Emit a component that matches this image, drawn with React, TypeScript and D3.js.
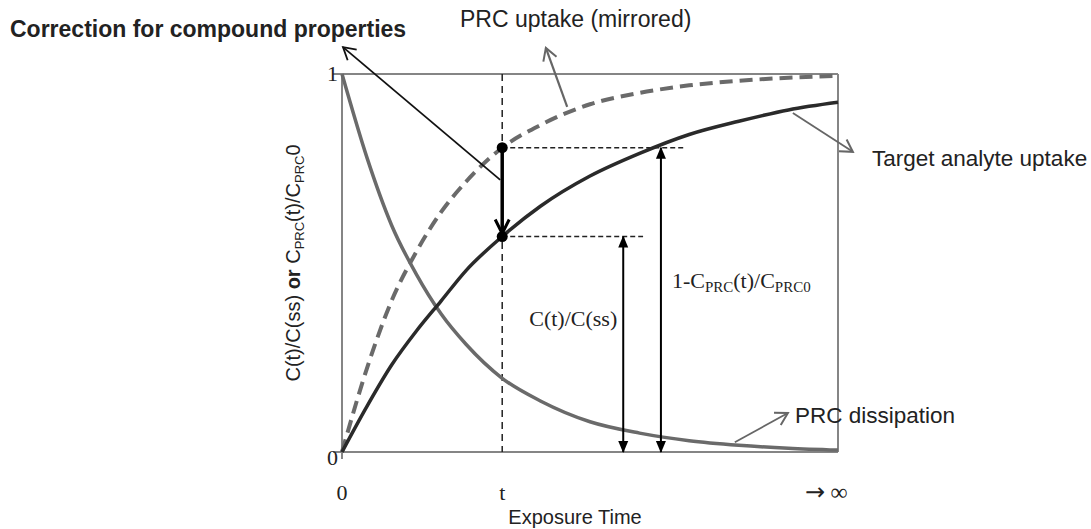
import * as d3 from 'd3';

// curves (x = share of exposure time up to "infinity")
const timeSteps = [0, 0.05, 0.1, 0.15, 0.2, 0.25, 0.323, 0.4, 0.5, 0.6, 0.7, 0.8, 0.9, 1.0];
const targetUptake = [0, 0.12, 0.23, 0.32, 0.4, 0.48, 0.57, 0.65, 0.73, 0.79, 0.84, 0.875, 0.905, 0.925];
const prcUptake = [0, 0.22, 0.4, 0.53, 0.635, 0.715, 0.805, 0.865, 0.92, 0.95, 0.97, 0.982, 0.99, 0.995];
const prcDissipation = [1, 0.78, 0.6, 0.47, 0.365, 0.285, 0.195, 0.135, 0.08, 0.05, 0.03, 0.018, 0.01, 0.005];

const xTickValues = [0, 0.323, 1];
const xTickLabels = ['0', 't', '∞'];
const yTickValues = [0, 1];
const yTickLabels = ['0', '1'];

// marked exposure time and the two levels read at it
const tMark = 0.323;
const prcLevelAtT = 0.805;
const analyteLevelAtT = 0.57;
const ratioArrowX = 0.567;
const prcArrowX = 0.643;
const prcGuideEnd = 0.688;
const analyteGuideEnd = 0.607;

// annotation pointers [fromX, fromY, toX, toY] in data units
const correctionPointer = [0.319, 0.72, 0.002, 1.071];
const prcUptakePointer = [0.454, 0.913, 0.411, 1.069];
const targetPointer = [0.909, 0.897, 1.03, 0.794];
const dissipationPointer = [0.792, 0.026, 0.899, 0.103];

const sans = '"Liberation Sans", Arial, sans-serif';
const serif = '"Liberation Serif", "Times New Roman", serif';

export default function App() {
  const width = 1091;
  const height = 529;

  const x = d3.scaleLinear().domain([0, 1]).range([342, 838]);
  const y = d3.scaleLinear().domain([0, 1]).range([452, 74]);

  const line = (vals: number[]) =>
    d3.line<number>()
      .x((_, i) => x(timeSteps[i]))
      .y(d => y(d))
      .curve(d3.curveMonotoneX)(vals) || '';

  const pointer = (p: number[], color: string, marker: string, w = 1.6) => (
    <line x1={x(p[0])} y1={y(p[1])} x2={x(p[2])} y2={y(p[3])}
      stroke={color} strokeWidth={w} markerEnd={`url(#${marker})`} />
  );

  return (
    <svg width={width} height={height} style={{ position: 'absolute', left: 0, top: 0, background: '#fff' }}>
      <defs>
        <marker id="openBlack" viewBox="0 0 16 16" refX="14" refY="8" markerWidth="16" markerHeight="16"
          orient="auto" markerUnits="userSpaceOnUse">
          <path d="M2,1 L14,8 L2,15" fill="none" stroke="#111" strokeWidth="1.8" />
        </marker>
        <marker id="openGray" viewBox="0 0 16 16" refX="14" refY="8" markerWidth="16" markerHeight="16"
          orient="auto" markerUnits="userSpaceOnUse">
          <path d="M2,1 L14,8 L2,15" fill="none" stroke="#666" strokeWidth="2" />
        </marker>
        <marker id="thickHead" viewBox="0 0 18 18" refX="16" refY="9" markerWidth="18" markerHeight="18"
          orient="auto" markerUnits="userSpaceOnUse">
          <path d="M2,2 L16,9 L2,16" fill="none" stroke="#000" strokeWidth="3" />
        </marker>
        <marker id="solidHead" viewBox="0 0 12 12" refX="11" refY="6" markerWidth="12" markerHeight="12"
          orient="auto-start-reverse" markerUnits="userSpaceOnUse">
          <path d="M0,1 L12,6 L0,11 Z" fill="#000" />
        </marker>
      </defs>

      {/* frame */}
      <g stroke="#858585" strokeWidth={2}>
        <line x1={x(0) - 9} x2={x(1)} y1={y(1)} y2={y(1)} />
        <line x1={x(0) - 9} x2={x(1)} y1={y(0)} y2={y(0)} />
        <line x1={x(0)} x2={x(0)} y1={y(1)} y2={y(0) + 7} />
        <line x1={x(1)} x2={x(1)} y1={y(1)} y2={y(0)} />
      </g>

      {/* t guide */}
      <line x1={x(tMark)} x2={x(tMark)} y1={y(1)} y2={y(0)} stroke="#222" strokeWidth={1.5} strokeDasharray="7,5" />
      <line x1={x(tMark)} x2={x(prcGuideEnd)} y1={y(prcLevelAtT)} y2={y(prcLevelAtT)}
        stroke="#222" strokeWidth={1.5} strokeDasharray="5,3" />
      <line x1={x(tMark)} x2={x(analyteGuideEnd)} y1={y(analyteLevelAtT)} y2={y(analyteLevelAtT)}
        stroke="#222" strokeWidth={1.5} strokeDasharray="5,3" />

      {/* curves */}
      <path d={line(prcDissipation)} fill="none" stroke="#6a6a6a" strokeWidth={3.5} />
      <path d={line(prcUptake)} fill="none" stroke="#6a6a6a" strokeWidth={4} strokeDasharray="13,7" />
      <path d={line(targetUptake)} fill="none" stroke="#2a2a2a" strokeWidth={3.5} />

      {/* measurement arrows */}
      <line x1={x(ratioArrowX)} x2={x(ratioArrowX)} y1={y(analyteLevelAtT)} y2={y(0)}
        stroke="#000" strokeWidth={2} markerStart="url(#solidHead)" markerEnd="url(#solidHead)" />
      <line x1={x(prcArrowX)} x2={x(prcArrowX)} y1={y(prcLevelAtT)} y2={y(0)}
        stroke="#000" strokeWidth={2} markerStart="url(#solidHead)" markerEnd="url(#solidHead)" />

      {/* correction arrow */}
      <line x1={x(tMark)} x2={x(tMark)} y1={y(prcLevelAtT)} y2={y(analyteLevelAtT) - 3}
        stroke="#000" strokeWidth={3.5} markerEnd="url(#thickHead)" />
      <circle cx={x(tMark)} cy={y(prcLevelAtT)} r={5.5} fill="#000" />
      <circle cx={x(tMark)} cy={y(analyteLevelAtT)} r={5.5} fill="#000" />

      {/* pointers */}
      {pointer(correctionPointer, '#111', 'openBlack', 1.8)}
      {pointer(prcUptakePointer, '#666', 'openGray', 2.2)}
      {pointer(targetPointer, '#666', 'openGray', 1.8)}
      {pointer(dissipationPointer, '#666', 'openGray', 1.8)}

      {/* ticks */}
      <g fontFamily={serif} fontSize={22} fill="#222">
        {xTickValues.map((v, i) => (
          i === 2 ? (
            <text key={i} x={x(v) - 33} y={500}>
              <tspan fontFamily='"DejaVu Sans", sans-serif' fontSize={24}>→</tspan> <tspan fontSize={24}>{xTickLabels[i]}</tspan>
            </text>
          ) : (
            <text key={i} x={x(v)} y={500} textAnchor="middle">{xTickLabels[i]}</text>
          )
        ))}
        {yTickValues.map((v, i) => (
          <text key={i} x={338} y={y(v) + (v === 0 ? 8 : 2)} textAnchor="end" dominantBaseline="middle">{yTickLabels[i]}</text>
        ))}
      </g>

      {/* serif annotations */}
      <text x={x(ratioArrowX) - 6} y={326} fontFamily={serif} fontSize={22} fill="#222" textAnchor="end">C(t)/C(ss)</text>
      <text x={x(prcArrowX) + 11} y={288} fontFamily={serif} fontSize={22} fill="#222">
        1-C<tspan fontSize={15} dy={4}>PRC</tspan><tspan dy={-4}>(t)/C</tspan><tspan fontSize={15} dy={4}>PRC0</tspan>
      </text>

      {/* sans labels */}
      <g fontFamily={sans} fill="#222">
        <text x={10} y={37} fontSize={23} fontWeight="bold">Correction for compound properties</text>
        <text x={460} y={27} fontSize={23}>PRC uptake (mirrored)</text>
        <text x={872} y={166} fontSize={22.5}>Target analyte uptake</text>
        <text x={795} y={423} fontSize={22.5}>PRC dissipation</text>
        <text x={(x(0) + x(1)) / 2 - 15} y={524} fontSize={20} textAnchor="middle">Exposure Time</text>
        <text transform={`translate(300, ${(y(0) + y(1)) / 2}) rotate(-90)`} fontSize={20} textAnchor="middle">
          C(t)/C(ss) <tspan fontWeight="bold">or</tspan> C<tspan fontSize={13} dy={4}>PRC</tspan><tspan dy={-4}>(t)/C</tspan><tspan fontSize={13} dy={4}>PRC</tspan><tspan dy={-4}>0</tspan>
        </text>
      </g>
    </svg>
  );
}
